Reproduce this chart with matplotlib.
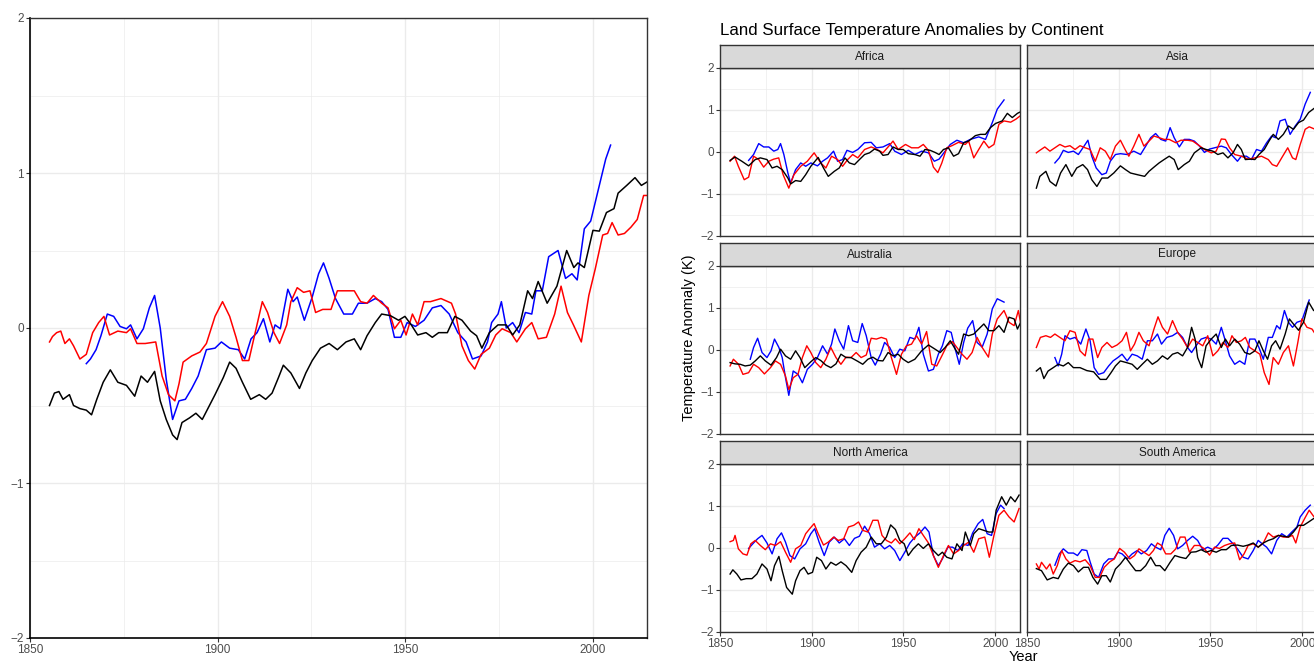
#!/usr/bin/env python3
"""
Land surface temperature anomalies: global overview plus one panel per continent.
Values were read off the reference figure (smoothed series, 3 sources).
"""

import numpy as np
import matplotlib
matplotlib.use("Agg")
import matplotlib.pyplot as plt
from matplotlib.ticker import MultipleLocator

plt.rcParams['font.family'] = ['Liberation Sans', 'DejaVu Sans']

# ---- data: (year, anomaly K) pairs per series ----
global_black = [(1855.2, -0.50), (1856.5, -0.42), (1857.7, -0.41), (1858.8, -0.46), (1860.5, -0.43), (1861.6, -0.50),
                (1863.3, -0.52), (1865.0, -0.53), (1866.4, -0.56), (1867.8, -0.46), (1869.5, -0.35), (1871.4, -0.27),
                (1873.4, -0.35), (1875.7, -0.37), (1877.9, -0.44), (1879.6, -0.31), (1881.3, -0.35), (1883.2, -0.28),
                (1884.7, -0.47), (1886.3, -0.59), (1888.0, -0.69), (1889.2, -0.72), (1890.5, -0.61), (1892.5, -0.58),
                (1894.2, -0.55), (1895.9, -0.59), (1897.6, -0.51), (1899.3, -0.43), (1901.5, -0.32), (1903.2, -0.22),
                (1904.9, -0.26), (1906.6, -0.35), (1908.8, -0.46), (1911.1, -0.43), (1912.8, -0.46), (1914.5, -0.42),
                (1916.2, -0.32), (1917.5, -0.24), (1919.5, -0.29), (1921.8, -0.39), (1923.5, -0.29), (1925.2, -0.21),
                (1927.4, -0.13), (1929.7, -0.10), (1931.9, -0.14), (1934.2, -0.09), (1936.4, -0.07), (1938.1, -0.14),
                (1939.8, -0.05), (1942.0, 0.035), (1943.7, 0.09), (1946.0, 0.08), (1948.2, 0.05), (1949.9, 0.075),
                (1951.6, 0.02), (1953.3, -0.045), (1955.5, -0.03), (1957.2, -0.06), (1958.9, -0.03), (1961.2, -0.03),
                (1963.2, 0.075), (1965.1, 0.05), (1967.4, -0.02), (1969.0, -0.05), (1970.4, -0.13), (1972.4, -0.03),
                (1974.7, 0.02), (1976.9, 0.02), (1978.6, -0.045), (1980.5, 0.02), (1982.6, 0.24), (1983.9, 0.19),
                (1985.4, 0.30), (1987.8, 0.16), (1990.4, 0.27), (1993.0, 0.50), (1994.9, 0.39), (1996.0, 0.42),
                (1997.7, 0.39), (2000.0, 0.63), (2001.7, 0.625), (2003.6, 0.745), (2005.6, 0.77), (2006.7, 0.87),
                (2009.0, 0.92), (2011.2, 0.97), (2012.9, 0.92), (2014.6, 0.945)]
global_blue = [(1865.0, -0.23), (1866.1, -0.20), (1867.6, -0.14), (1868.9, -0.05), (1870.6, 0.09), (1872.3, 0.075),
               (1874.0, 0.01), (1875.7, -0.005), (1876.8, 0.02), (1878.5, -0.07), (1880.2, -0.005), (1881.8, 0.13),
               (1883.2, 0.21), (1884.7, 0.0), (1886.3, -0.33), (1888.0, -0.59), (1889.7, -0.47), (1891.4, -0.46),
               (1893.1, -0.39), (1894.8, -0.31), (1897.0, -0.14), (1899.3, -0.13), (1901.0, -0.09), (1903.2, -0.13),
               (1905.5, -0.14), (1907.2, -0.20), (1908.9, -0.07), (1910.5, -0.03), (1912.2, 0.06), (1913.9, -0.09),
               (1915.3, 0.02), (1916.7, -0.005), (1918.7, 0.25), (1920.1, 0.17), (1921.2, 0.20), (1923.1, 0.05),
               (1925.2, 0.20), (1926.9, 0.35), (1928.2, 0.42), (1929.7, 0.32), (1931.4, 0.19), (1933.6, 0.09),
               (1935.9, 0.09), (1937.5, 0.16), (1939.8, 0.16), (1942.0, 0.19), (1943.7, 0.17), (1945.4, 0.12),
               (1947.1, -0.06), (1948.8, -0.06), (1950.5, 0.035), (1952.7, 0.01), (1955.0, 0.05), (1957.2, 0.13),
               (1959.5, 0.145), (1961.7, 0.09), (1964.0, -0.03), (1966.2, -0.09), (1967.9, -0.20), (1970.2, -0.18),
               (1971.9, -0.09), (1973.0, 0.035), (1974.7, 0.09), (1975.6, 0.17), (1976.9, 0.0), (1978.6, 0.035),
               (1980.3, -0.03), (1982.0, 0.10), (1983.7, 0.09), (1984.8, 0.24), (1986.5, 0.24), (1988.2, 0.46),
               (1990.7, 0.50), (1992.7, 0.32), (1994.4, 0.35), (1995.8, 0.31), (1997.7, 0.64), (1999.4, 0.69),
               (2001.7, 0.92), (2003.4, 1.09), (2004.7, 1.18)]
global_red = [(1855.2, -0.09), (1856.0, -0.055), (1857.1, -0.03), (1858.2, -0.02), (1859.3, -0.10), (1860.5, -0.07),
              (1861.6, -0.115), (1863.3, -0.20), (1865.0, -0.17), (1866.7, -0.03), (1868.3, 0.035), (1869.7, 0.075),
              (1871.2, -0.045), (1873.4, -0.02), (1875.7, -0.03), (1876.8, -0.005), (1878.5, -0.10), (1880.7, -0.10),
              (1883.5, -0.09), (1885.2, -0.31), (1886.9, -0.43), (1888.6, -0.47), (1889.7, -0.36), (1890.8, -0.22),
              (1893.1, -0.18), (1895.3, -0.155), (1897.0, -0.10), (1899.3, 0.075), (1901.3, 0.17), (1903.2, 0.075),
              (1904.9, -0.06), (1906.6, -0.21), (1908.3, -0.21), (1910.0, -0.03), (1911.9, 0.17), (1913.3, 0.10),
              (1915.0, -0.03), (1916.5, -0.10), (1918.4, 0.02), (1919.5, 0.17), (1921.2, 0.26), (1922.9, 0.23),
              (1924.6, 0.24), (1926.1, 0.10), (1928.0, 0.12), (1930.2, 0.12), (1931.9, 0.24), (1934.2, 0.24),
              (1936.4, 0.24), (1938.1, 0.17), (1939.8, 0.16), (1941.5, 0.21), (1943.7, 0.16), (1945.4, 0.13),
              (1947.1, -0.005), (1948.8, 0.05), (1950.2, -0.045), (1951.9, 0.09), (1953.3, 0.02), (1955.0, 0.17),
              (1956.7, 0.17), (1959.5, 0.19), (1962.3, 0.16), (1963.4, 0.09), (1965.1, -0.115), (1966.8, -0.21),
              (1968.5, -0.265), (1970.2, -0.17), (1972.4, -0.13), (1974.1, -0.045), (1975.8, -0.005), (1978.1, -0.03),
              (1979.7, -0.09), (1982.0, -0.005), (1983.7, 0.035), (1985.4, -0.07), (1987.6, -0.06), (1989.8, 0.09),
              (1991.5, 0.27), (1993.2, 0.10), (1994.8, 0.02), (1996.9, -0.09), (1998.9, 0.21), (2000.6, 0.38),
              (2002.6, 0.60), (2003.9, 0.61), (2005.1, 0.68), (2006.7, 0.60), (2008.4, 0.61), (2010.1, 0.65),
              (2011.8, 0.70), (2013.5, 0.855), (2014.6, 0.855)]

africa_black = [(1855.5, -0.20), (1858.2, -0.12), (1861.9, -0.22), (1865.6, -0.33), (1869.2, -0.18), (1872.0, -0.14),
                (1875.6, -0.18), (1878.4, -0.38), (1881.1, -0.34), (1883.9, -0.42), (1887.0, -0.62), (1888.5, -0.76),
                (1891.2, -0.68), (1894.0, -0.70), (1896.7, -0.54), (1899.5, -0.34), (1903.5, -0.13), (1906.4, -0.38),
                (1909.0, -0.58), (1912.3, -0.46), (1915.0, -0.38), (1918.1, -0.14), (1920.5, -0.26), (1923.3, -0.30),
                (1926.0, -0.18), (1928.8, -0.06), (1931.5, -0.02), (1934.2, 0.07), (1937.0, 0.02), (1938.8, -0.08),
                (1941.6, -0.06), (1944.3, 0.12), (1947.1, 0.06), (1949.8, 0.06), (1952.6, -0.04), (1956.2, -0.06),
                (1959.0, -0.10), (1961.7, 0.06), (1964.5, 0.04), (1967.2, -0.01), (1969.4, -0.06), (1971.8, 0.06),
                (1974.5, 0.10), (1977.3, -0.10), (1980.0, -0.04), (1982.8, 0.22), (1985.5, 0.26), (1989.2, 0.39),
                (1991.9, 0.42), (1994.7, 0.42), (1997.4, 0.58), (2000.2, 0.68), (2003.8, 0.74), (2006.6, 0.92),
                (2009.3, 0.82), (2012.1, 0.92), (2013.9, 0.96)]
africa_blue = [(1865.6, -0.20), (1868.3, -0.06), (1871.1, 0.20), (1873.8, 0.12), (1876.6, 0.12), (1879.3, 0.02),
               (1881.5, 0.06), (1883.0, 0.20), (1884.8, -0.06), (1887.0, -0.50), (1888.5, -0.74), (1891.2, -0.42),
               (1894.0, -0.26), (1896.7, -0.34), (1899.5, -0.26), (1903.1, -0.33), (1905.9, -0.22), (1908.6, -0.14),
               (1911.9, 0.02), (1914.1, -0.22), (1916.8, -0.18), (1919.2, 0.04), (1922.3, -0.01), (1925.1, 0.06),
               (1928.8, 0.22), (1932.4, 0.23), (1935.2, 0.10), (1938.8, 0.12), (1942.5, 0.20), (1945.2, 0.02),
               (1948.9, -0.06), (1952.6, 0.04), (1956.2, -0.06), (1959.9, 0.02), (1963.6, -0.02), (1966.8, -0.22),
               (1969.4, -0.17), (1972.7, 0.02), (1975.5, 0.18), (1979.1, 0.28), (1982.8, 0.22), (1986.4, 0.30),
               (1991.0, 0.36), (1994.7, 0.30), (1998.4, 0.70), (2001.1, 1.02), (2004.8, 1.24)]
africa_red = [(1855.5, -0.22), (1857.9, -0.10), (1860.0, -0.34), (1863.2, -0.66), (1865.6, -0.60), (1868.3, -0.10),
              (1871.1, -0.18), (1873.8, -0.36), (1876.6, -0.22), (1879.3, -0.17), (1882.0, -0.14), (1884.4, -0.54),
              (1887.5, -0.86), (1890.3, -0.54), (1894.0, -0.34), (1897.6, -0.22), (1901.3, -0.02), (1904.9, -0.26),
              (1907.7, -0.38), (1910.8, -0.10), (1914.1, -0.18), (1916.8, -0.34), (1919.6, -0.18), (1922.3, -0.06),
              (1925.1, -0.14), (1928.8, 0.06), (1932.4, 0.12), (1935.2, 0.07), (1938.8, -0.02), (1941.6, 0.12),
              (1944.3, 0.26), (1947.1, 0.06), (1951.1, 0.18), (1954.4, 0.10), (1958.1, 0.10), (1960.8, 0.18),
              (1963.6, 0.04), (1966.3, -0.36), (1968.7, -0.49), (1970.9, -0.26), (1973.6, 0.10), (1976.4, 0.15),
              (1980.0, 0.23), (1983.7, 0.18), (1985.5, 0.26), (1988.3, -0.14), (1991.0, 0.06), (1993.8, 0.26),
              (1996.5, 0.10), (1999.3, 0.18), (2002.0, 0.66), (2004.8, 0.74), (2008.4, 0.71), (2011.2, 0.78),
              (2013.9, 0.87)]

asia_black = [(1855.1, -0.86), (1857.0, -0.58), (1860.3, -0.46), (1862.5, -0.70), (1865.8, -0.81), (1868.3, -0.50),
              (1871.2, -0.30), (1874.4, -0.58), (1877.1, -0.38), (1880.4, -0.30), (1883.0, -0.42), (1885.3, -0.66),
              (1888.1, -0.82), (1890.8, -0.62), (1894.0, -0.62), (1897.3, -0.50), (1900.9, -0.33), (1903.7, -0.42),
              (1906.4, -0.50), (1910.1, -0.54), (1914.1, -0.58), (1916.5, -0.46), (1919.2, -0.36), (1922.0, -0.26),
              (1924.7, -0.18), (1927.5, -0.10), (1930.2, -0.18), (1932.4, -0.42), (1935.7, -0.30), (1938.5, -0.22),
              (1941.2, -0.02), (1944.9, 0.10), (1947.6, 0.06), (1951.3, 0.02), (1954.0, -0.06), (1956.8, -0.02),
              (1959.5, -0.14), (1962.3, -0.02), (1964.7, 0.18), (1966.8, 0.06), (1969.0, -0.18), (1972.0, -0.17),
              (1974.2, -0.18), (1976.4, -0.06), (1979.3, 0.06), (1981.9, 0.26), (1984.2, 0.42), (1987.0, 0.30),
              (1989.7, 0.42), (1992.5, 0.62), (1995.2, 0.54), (1998.0, 0.70), (2000.7, 0.76), (2003.5, 0.94),
              (2007.1, 1.06), (2010.0, 1.10)]
asia_blue = [(1865.2, -0.26), (1867.6, -0.14), (1869.8, 0.04), (1872.5, -0.01), (1875.3, 0.02), (1878.0, -0.06),
             (1881.1, 0.14), (1883.2, 0.28), (1885.3, -0.10), (1887.7, -0.38), (1890.8, -0.54), (1893.2, -0.50),
             (1895.4, -0.22), (1898.2, -0.06), (1900.9, -0.04), (1904.6, -0.06), (1908.2, 0.02), (1911.9, -0.06),
             (1914.7, 0.14), (1917.4, 0.34), (1920.1, 0.44), (1922.9, 0.30), (1925.6, 0.26), (1928.0, 0.58),
             (1930.2, 0.34), (1933.0, 0.12), (1935.7, 0.30), (1938.5, 0.30), (1941.2, 0.26), (1944.0, 0.14),
             (1946.7, -0.01), (1949.5, 0.07), (1952.2, 0.10), (1955.9, 0.14), (1958.6, 0.10), (1961.4, -0.06),
             (1964.7, -0.22), (1966.8, -0.10), (1969.6, -0.10), (1972.3, -0.18), (1975.1, 0.06), (1977.8, 0.02),
             (1980.6, 0.22), (1983.3, 0.38), (1985.5, 0.34), (1987.9, 0.74), (1990.7, 0.78), (1993.4, 0.42),
             (1996.2, 0.62), (1998.9, 0.78), (2001.6, 1.14), (2004.4, 1.42)]
asia_red = [(1855.1, -0.02), (1857.0, 0.04), (1859.7, 0.12), (1862.5, 0.02), (1865.2, 0.10), (1867.9, 0.18),
            (1870.7, 0.12), (1873.4, 0.15), (1876.2, 0.06), (1878.9, 0.15), (1881.7, 0.10), (1884.4, 0.06),
            (1887.2, -0.22), (1889.9, 0.10), (1892.7, 0.02), (1895.4, -0.18), (1898.2, 0.14), (1900.9, 0.28),
            (1903.7, 0.04), (1905.5, -0.10), (1908.2, 0.14), (1911.0, 0.42), (1913.7, 0.14), (1916.5, 0.26),
            (1919.2, 0.38), (1922.0, 0.34), (1924.7, 0.30), (1927.5, 0.30), (1931.1, 0.22), (1933.9, 0.28),
            (1937.5, 0.28), (1940.3, 0.26), (1943.0, 0.18), (1946.7, 0.06), (1950.4, -0.02), (1953.1, 0.02),
            (1955.9, 0.31), (1958.1, 0.30), (1960.4, 0.10), (1963.2, -0.06), (1966.8, -0.10), (1970.5, -0.17),
            (1974.2, -0.14), (1977.8, -0.10), (1981.5, -0.18), (1983.7, -0.30), (1986.1, -0.34), (1988.8, -0.14),
            (1992.1, 0.10), (1994.7, -0.14), (1996.5, -0.18), (1998.9, 0.18), (2001.6, 0.54), (2003.8, 0.60),
            (2007.1, 0.54), (2010.0, 0.52)]

australia_black = [(1855.5, -0.30), (1858.2, -0.33), (1861.0, -0.34), (1863.7, -0.38), (1866.5, -0.36), (1869.2, -0.26),
                   (1872.0, -0.14), (1874.7, -0.26), (1877.8, -0.36), (1880.8, -0.18), (1883.0, 0.02), (1885.7, -0.14),
                   (1888.5, -0.22), (1891.2, -0.02), (1893.6, -0.18), (1896.2, -0.42), (1899.5, -0.28), (1902.2, -0.18),
                   (1904.9, -0.25), (1907.7, -0.36), (1910.4, -0.42), (1913.2, -0.33), (1915.9, -0.10), (1918.7, -0.18),
                   (1921.4, -0.18), (1924.7, -0.26), (1927.8, -0.34), (1930.6, -0.22), (1933.3, -0.17), (1936.1, -0.25),
                   (1938.8, -0.26), (1941.6, -0.06), (1944.3, -0.14), (1947.1, -0.10), (1949.8, -0.22), (1952.6, -0.30),
                   (1956.2, -0.22), (1959.9, -0.02), (1963.6, 0.12), (1967.2, 0.02), (1970.0, -0.06), (1972.7, 0.06),
                   (1975.5, 0.22), (1978.2, 0.02), (1980.0, -0.10), (1982.8, 0.38), (1985.5, 0.34), (1988.3, 0.38),
                   (1991.0, 0.50), (1993.8, 0.62), (1996.5, 0.46), (1999.3, 0.46), (2002.0, 0.58), (2004.8, 0.42),
                   (2007.5, 0.78), (2010.3, 0.74), (2012.1, 0.50), (2013.9, 0.66)]
australia_blue = [(1866.5, -0.22), (1868.3, 0.06), (1870.5, 0.28), (1872.9, -0.06), (1875.6, -0.18), (1877.8, -0.02),
                  (1879.7, 0.26), (1882.1, 0.06), (1883.9, -0.18), (1885.7, -0.66), (1887.5, -1.08), (1889.9, -0.50),
                  (1892.5, -0.58), (1894.9, -0.78), (1897.6, -0.46), (1900.4, -0.34), (1903.1, -0.18), (1905.9, 0.10),
                  (1908.6, -0.10), (1910.8, 0.14), (1912.6, 0.50), (1915.0, 0.22), (1917.4, 0.02), (1920.0, 0.58),
                  (1922.3, 0.22), (1925.1, 0.18), (1927.5, 0.63), (1929.7, 0.34), (1932.4, -0.18), (1934.6, -0.36),
                  (1937.5, -0.10), (1939.7, 0.18), (1942.5, 0.06), (1945.2, -0.18), (1948.0, 0.02), (1950.7, -0.02),
                  (1953.5, 0.30), (1956.2, 0.26), (1958.4, 0.54), (1960.8, -0.10), (1963.6, -0.50), (1966.3, -0.46),
                  (1969.0, -0.10), (1971.2, 0.10), (1973.6, 0.46), (1976.0, 0.42), (1978.2, 0.02), (1980.4, -0.34),
                  (1982.8, 0.18), (1985.0, 0.52), (1987.7, 0.70), (1990.1, 0.18), (1992.9, 0.07), (1995.6, 0.38),
                  (1998.4, 0.98), (2001.1, 1.22), (2004.8, 1.14)]
australia_red = [(1855.5, -0.38), (1857.3, -0.22), (1860.1, -0.34), (1862.5, -0.58), (1865.6, -0.54), (1868.3, -0.34),
                 (1871.1, -0.42), (1874.2, -0.57), (1877.5, -0.42), (1880.2, -0.26), (1883.0, -0.34), (1885.7, -0.62),
                 (1887.5, -0.94), (1889.9, -0.66), (1892.5, -0.58), (1894.9, -0.18), (1897.3, 0.10), (1899.5, -0.06),
                 (1902.2, -0.30), (1904.9, -0.42), (1907.7, -0.22), (1910.4, 0.06), (1913.2, -0.18), (1915.9, -0.34),
                 (1918.7, -0.17), (1921.4, -0.18), (1924.2, -0.06), (1926.9, -0.18), (1929.7, -0.12), (1932.4, 0.28),
                 (1935.2, 0.26), (1937.9, 0.30), (1940.7, 0.26), (1943.4, -0.18), (1946.2, -0.58), (1948.9, -0.10),
                 (1951.6, 0.10), (1954.4, 0.14), (1957.1, 0.34), (1959.9, 0.14), (1962.6, 0.44), (1965.4, -0.34),
                 (1968.1, -0.38), (1970.9, -0.14), (1973.6, 0.10), (1976.7, 0.20), (1979.1, 0.06), (1981.9, -0.10),
                 (1984.6, -0.22), (1987.4, -0.06), (1990.1, 0.30), (1992.9, 0.06), (1996.3, -0.17), (1998.4, 0.38),
                 (2001.1, 0.74), (2004.8, 0.94), (2007.5, 0.66), (2010.3, 0.58), (2012.6, 0.94), (2013.9, 0.62)]

europe_black = [(1855.1, -0.50), (1857.3, -0.42), (1859.2, -0.68), (1861.5, -0.50), (1864.3, -0.42), (1867.0, -0.34),
                (1869.8, -0.38), (1872.5, -0.30), (1875.3, -0.42), (1878.9, -0.42), (1882.6, -0.49), (1886.3, -0.52),
                (1889.9, -0.70), (1893.2, -0.70), (1895.8, -0.54), (1898.2, -0.38), (1900.9, -0.26), (1904.2, -0.30),
                (1907.3, -0.34), (1910.1, -0.46), (1912.8, -0.34), (1915.6, -0.22), (1918.3, -0.34), (1921.1, -0.26),
                (1923.8, -0.14), (1926.6, -0.22), (1929.3, -0.10), (1932.1, -0.06), (1934.8, -0.14), (1937.5, 0.06),
                (1939.7, 0.54), (1941.6, 0.26), (1943.0, -0.18), (1945.2, -0.42), (1947.6, 0.10), (1950.4, 0.26),
                (1953.1, 0.38), (1955.9, 0.06), (1958.1, 0.26), (1960.4, 0.10), (1963.2, 0.26), (1965.9, 0.14),
                (1968.7, -0.06), (1971.4, -0.10), (1974.2, -0.02), (1976.4, 0.22), (1978.8, -0.02), (1981.1, -0.22),
                (1983.3, 0.10), (1985.5, 0.22), (1987.9, 0.02), (1990.7, 0.38), (1993.0, 0.74), (1995.2, 0.62),
                (1998.0, 0.47), (2000.7, 0.66), (2003.5, 1.14), (2006.2, 0.94), (2010.0, 0.90)]
europe_blue = [(1865.2, -0.18), (1867.0, -0.38), (1868.9, -0.10), (1870.7, 0.34), (1873.4, 0.26), (1876.2, 0.30),
               (1879.3, 0.14), (1882.1, 0.50), (1884.4, 0.22), (1886.6, -0.42), (1889.0, -0.58), (1891.8, -0.54),
               (1894.5, -0.38), (1896.9, -0.26), (1899.5, -0.18), (1901.8, -0.10), (1904.6, -0.26), (1907.3, -0.10),
               (1910.1, -0.14), (1912.8, -0.22), (1915.6, 0.22), (1918.3, 0.22), (1921.1, 0.38), (1923.3, 0.14),
               (1926.2, 0.30), (1929.3, 0.34), (1932.1, 0.42), (1934.8, 0.30), (1937.5, 0.06), (1939.7, -0.06),
               (1942.1, 0.10), (1944.9, 0.26), (1947.6, 0.30), (1950.4, 0.26), (1953.1, 0.14), (1955.9, 0.54),
               (1958.1, 0.22), (1960.4, -0.14), (1963.2, -0.34), (1965.9, -0.26), (1968.7, -0.34), (1971.4, 0.26),
               (1974.2, 0.26), (1976.4, 0.06), (1978.8, -0.22), (1981.5, 0.30), (1983.7, 0.30), (1986.1, 0.58),
               (1987.9, 0.50), (1990.3, 0.94), (1992.5, 0.66), (1994.7, 0.54), (1997.1, 0.66), (1999.8, 0.70),
               (2002.0, 0.98), (2003.8, 1.19)]
europe_red = [(1855.1, 0.06), (1857.3, 0.30), (1860.3, 0.34), (1862.8, 0.30), (1865.2, 0.38), (1867.9, 0.30),
              (1870.7, 0.22), (1873.4, 0.46), (1876.2, 0.42), (1878.9, -0.02), (1881.7, -0.14), (1883.5, 0.26),
              (1885.9, 0.26), (1888.5, -0.18), (1890.8, 0.06), (1893.6, 0.18), (1896.3, 0.06), (1899.1, 0.12),
              (1901.8, 0.22), (1904.2, 0.42), (1906.4, -0.02), (1908.6, 0.14), (1911.0, 0.42), (1913.4, 0.22),
              (1916.5, 0.10), (1919.2, 0.50), (1921.4, 0.79), (1923.8, 0.54), (1926.6, 0.38), (1929.3, 0.70),
              (1932.1, 0.42), (1934.8, 0.26), (1937.5, 0.06), (1940.3, 0.26), (1943.0, 0.18), (1945.8, 0.10),
              (1948.5, 0.34), (1951.3, -0.14), (1954.0, -0.02), (1956.8, 0.18), (1959.5, 0.06), (1961.7, 0.34),
              (1964.1, 0.18), (1966.8, 0.22), (1969.0, 0.30), (1971.4, 0.06), (1974.2, -0.02), (1976.9, -0.10),
              (1979.3, -0.54), (1981.9, -0.82), (1984.2, -0.18), (1987.0, -0.34), (1989.7, -0.06), (1992.5, 0.10),
              (1995.2, -0.38), (1997.6, 0.18), (1999.8, 0.74), (2002.6, 0.54), (2005.3, 0.50), (2007.1, 0.38),
              (2010.0, 0.40)]

namerica_black = [(1855.5, -0.62), (1857.0, -0.52), (1859.2, -0.62), (1861.4, -0.76), (1864.3, -0.73), (1867.4, -0.73),
                  (1870.1, -0.62), (1872.9, -0.38), (1875.6, -0.50), (1877.8, -0.78), (1879.7, -0.42), (1882.1, -0.20),
                  (1883.9, -0.54), (1886.3, -0.94), (1889.4, -1.10), (1891.2, -0.78), (1893.6, -0.54), (1895.8, -0.46),
                  (1898.0, -0.62), (1900.4, -0.58), (1902.7, -0.22), (1905.3, -0.30), (1907.7, -0.50), (1910.4, -0.34),
                  (1913.2, -0.41), (1915.9, -0.33), (1918.7, -0.42), (1921.8, -0.58), (1924.2, -0.30), (1926.9, -0.10),
                  (1929.7, 0.02), (1932.4, 0.26), (1935.2, 0.10), (1937.9, 0.10), (1940.7, 0.26), (1943.0, 0.55),
                  (1945.6, 0.44), (1948.0, 0.18), (1950.4, 0.10), (1952.6, -0.18), (1955.3, -0.02), (1958.1, 0.10),
                  (1960.8, -0.01), (1963.6, 0.10), (1966.3, -0.06), (1969.0, -0.18), (1971.2, -0.10), (1973.6, -0.22),
                  (1976.4, -0.26), (1979.1, 0.10), (1981.9, -0.06), (1983.7, 0.38), (1986.4, 0.06), (1988.3, 0.34),
                  (1991.0, 0.46), (1993.8, 0.42), (1996.5, 0.38), (1998.7, 0.38), (2000.5, 0.90), (2003.5, 1.22),
                  (2006.0, 1.02), (2008.4, 1.22), (2010.8, 1.10), (2013.0, 1.26)]
namerica_blue = [(1865.6, -0.01), (1868.3, 0.12), (1870.5, 0.22), (1872.9, 0.30), (1875.6, 0.12), (1878.4, -0.14),
                 (1881.1, 0.22), (1883.5, 0.36), (1885.7, 0.14), (1888.1, -0.18), (1890.7, -0.26), (1893.6, -0.02),
                 (1896.7, 0.10), (1899.5, 0.34), (1901.6, 0.46), (1904.0, 0.14), (1906.8, -0.18), (1909.5, 0.14),
                 (1912.3, 0.26), (1915.0, 0.12), (1917.8, 0.22), (1920.5, 0.06), (1923.3, 0.23), (1926.0, 0.28),
                 (1928.8, 0.52), (1931.5, 0.34), (1934.2, 0.02), (1937.0, 0.10), (1939.7, -0.02), (1942.5, 0.06),
                 (1945.2, -0.06), (1948.0, -0.30), (1950.7, -0.10), (1953.5, 0.12), (1956.2, 0.26), (1959.0, 0.36),
                 (1961.7, 0.50), (1963.9, 0.38), (1966.3, -0.18), (1969.0, -0.42), (1971.2, -0.26), (1974.2, 0.02),
                 (1976.7, 0.02), (1979.7, -0.06), (1982.2, 0.10), (1985.2, 0.06), (1987.7, 0.36), (1990.7, 0.58),
                 (1993.2, 0.68), (1995.6, 0.34), (1998.0, 0.30), (2000.5, 0.82), (2002.9, 1.02), (2004.8, 0.94)]
namerica_red = [(1855.5, 0.15), (1857.3, 0.18), (1858.2, 0.30), (1860.0, -0.02), (1862.5, -0.14), (1864.7, -0.17),
                (1866.8, 0.10), (1869.2, 0.18), (1872.0, 0.06), (1874.7, -0.04), (1877.5, 0.10), (1880.2, 0.06),
                (1883.0, 0.15), (1885.7, -0.10), (1888.5, -0.34), (1891.2, -0.02), (1894.0, 0.06), (1896.7, 0.34),
                (1899.1, 0.47), (1901.3, 0.58), (1903.5, 0.34), (1906.4, 0.07), (1909.0, 0.14), (1911.9, 0.26),
                (1914.5, 0.18), (1917.4, 0.22), (1920.0, 0.50), (1922.9, 0.54), (1925.5, 0.62), (1927.8, 0.42),
                (1930.6, 0.38), (1933.3, 0.66), (1936.1, 0.66), (1938.3, 0.30), (1940.7, 0.18), (1943.4, 0.12),
                (1945.6, 0.22), (1948.0, 0.10), (1950.7, 0.22), (1953.5, 0.36), (1955.9, 0.20), (1958.4, 0.46),
                (1960.8, 0.30), (1963.6, 0.12), (1966.3, -0.18), (1969.0, -0.46), (1971.8, -0.18), (1974.5, 0.06),
                (1977.3, -0.14), (1980.0, -0.06), (1982.8, 0.06), (1985.5, 0.14), (1988.3, -0.10), (1991.0, 0.22),
                (1994.3, 0.26), (1996.8, -0.22), (1999.3, 0.30), (2002.0, 0.78), (2004.8, 0.90), (2007.5, 0.74),
                (2010.3, 0.62), (2013.0, 0.94)]

samerica_black = [(1855.1, -0.49), (1857.9, -0.54), (1861.0, -0.76), (1864.3, -0.70), (1867.0, -0.73), (1869.8, -0.50),
                  (1872.5, -0.36), (1875.3, -0.42), (1878.0, -0.57), (1880.8, -0.46), (1883.5, -0.46), (1885.9, -0.70),
                  (1888.5, -0.86), (1890.8, -0.66), (1893.2, -0.66), (1895.4, -0.81), (1898.2, -0.50), (1900.9, -0.38),
                  (1903.7, -0.22), (1906.4, -0.38), (1909.2, -0.54), (1911.9, -0.54), (1914.7, -0.42), (1917.4, -0.22),
                  (1920.1, -0.42), (1922.5, -0.42), (1925.1, -0.54), (1928.0, -0.34), (1930.6, -0.18), (1933.5, -0.22),
                  (1936.6, -0.25), (1939.4, -0.10), (1942.1, -0.09), (1944.9, -0.04), (1947.6, -0.10), (1950.4, -0.06),
                  (1953.1, -0.10), (1955.9, -0.04), (1958.6, -0.04), (1961.4, 0.06), (1964.7, 0.07), (1967.8, 0.04),
                  (1970.5, 0.07), (1973.3, 0.12), (1976.0, 0.02), (1978.8, 0.12), (1981.5, 0.18), (1984.2, 0.22),
                  (1987.0, 0.30), (1989.7, 0.28), (1992.5, 0.26), (1995.2, 0.38), (1998.0, 0.54), (2000.7, 0.54),
                  (2003.5, 0.62), (2006.2, 0.70), (2010.0, 0.72)]
samerica_blue = [(1865.2, -0.41), (1867.6, -0.14), (1869.8, -0.02), (1872.5, -0.12), (1875.3, -0.12), (1877.5, -0.18),
                 (1879.9, -0.04), (1882.6, -0.06), (1884.4, -0.33), (1886.6, -0.62), (1889.0, -0.70), (1891.8, -0.38),
                 (1894.5, -0.26), (1897.3, -0.26), (1899.5, -0.10), (1901.8, -0.14), (1904.6, -0.26), (1907.3, -0.14),
                 (1910.1, -0.06), (1912.3, -0.14), (1915.2, -0.06), (1917.8, 0.10), (1920.1, 0.02), (1922.9, -0.04),
                 (1925.1, 0.30), (1927.5, 0.47), (1929.9, 0.30), (1932.1, -0.02), (1934.8, 0.06), (1937.5, 0.18),
                 (1940.3, 0.28), (1943.0, 0.18), (1945.8, -0.04), (1948.5, 0.02), (1951.3, -0.04), (1954.0, 0.07),
                 (1956.8, 0.23), (1959.5, 0.23), (1962.3, 0.10), (1964.7, -0.02), (1967.8, -0.22), (1970.5, -0.26),
                 (1973.3, -0.06), (1976.0, 0.18), (1978.2, 0.10), (1980.6, 0.02), (1983.3, -0.14), (1986.1, 0.18),
                 (1988.8, 0.34), (1991.6, 0.26), (1994.3, 0.38), (1997.1, 0.50), (1998.9, 0.74), (2001.6, 0.90),
                 (2004.4, 1.02)]
samerica_red = [(1855.1, -0.38), (1856.6, -0.50), (1857.9, -0.34), (1860.6, -0.50), (1862.5, -0.38), (1864.3, -0.62),
                (1866.5, -0.42), (1868.9, -0.06), (1871.2, -0.26), (1873.4, -0.36), (1876.2, -0.30), (1878.9, -0.33),
                (1881.7, -0.28), (1884.4, -0.42), (1887.2, -0.70), (1889.6, -0.70), (1892.1, -0.46), (1895.1, -0.33),
                (1897.6, -0.26), (1900.5, -0.01), (1903.1, -0.10), (1906.0, -0.26), (1908.6, -0.18), (1911.0, -0.02),
                (1913.7, -0.10), (1916.5, -0.18), (1918.9, -0.06), (1921.1, 0.12), (1923.3, 0.06), (1925.6, -0.14),
                (1928.4, -0.14), (1931.1, -0.02), (1933.5, 0.26), (1936.1, 0.26), (1938.5, -0.10), (1941.2, 0.06),
                (1944.0, 0.06), (1946.7, -0.02), (1949.5, -0.17), (1952.2, 0.02), (1954.9, -0.01), (1957.7, 0.06),
                (1960.4, 0.10), (1963.2, 0.12), (1965.9, -0.28), (1968.3, -0.14), (1970.5, 0.06), (1973.3, 0.10),
                (1976.0, 0.02), (1978.8, 0.12), (1981.5, 0.36), (1984.2, 0.26), (1987.0, 0.30), (1989.7, 0.26),
                (1992.5, 0.26), (1994.7, 0.30), (1996.5, 0.12), (1998.9, 0.50), (2001.3, 0.70), (2003.8, 0.90),
                (2007.1, 0.70), (2010.0, 0.62)]

continents = ["Africa", "Asia", "Australia", "Europe", "North America", "South America"]
continent_series = {
    "Africa": (africa_blue, africa_red, africa_black),
    "Asia": (asia_blue, asia_red, asia_black),
    "Australia": (australia_blue, australia_red, australia_black),
    "Europe": (europe_blue, europe_red, europe_black),
    "North America": (namerica_blue, namerica_red, namerica_black),
    "South America": (samerica_blue, samerica_red, samerica_black),
}
line_colors = ["#0000ff", "#ff0000", "#000000"]

W, H = 1314, 663
GRID = "#ebebeb"
TICK_TXT = "#4d4d4d"
BORDER = "#333333"


def fig_rect(x0, y0, x1, y1):
    """pixel box (top-left origin) -> figure fraction rect"""
    return [x0 / W, 1 - y1 / H, (x1 - x0) / W, (y1 - y0) / H]


def style_axes(ax, xmax):
    ax.set_xlim(1850, xmax)
    ax.set_ylim(-2, 2)
    ax.xaxis.set_major_locator(MultipleLocator(50))
    ax.xaxis.set_minor_locator(MultipleLocator(25))
    ax.yaxis.set_major_locator(MultipleLocator(1))
    ax.yaxis.set_minor_locator(MultipleLocator(0.5))
    ax.grid(which="major", color=GRID, lw=1.0)
    ax.grid(which="minor", color=GRID, lw=0.5)
    ax.set_axisbelow(True)
    ax.tick_params(which="minor", length=0)
    ax.tick_params(which="major", length=3, width=0.8, color=BORDER,
                   labelsize=8.5, labelcolor=TICK_TXT, pad=1.5)
    for sp in ax.spines.values():
        sp.set_color(BORDER)
        sp.set_linewidth(1.0)


def draw_series(ax, pairs, color, lw):
    arr = np.array(pairs)
    ax.plot(arr[:, 0], arr[:, 1], color=color, lw=lw, solid_joinstyle="round")


fig = plt.figure(figsize=(W / 100, H / 100), dpi=100)

# ---- left: global series ----
ax = fig.add_axes(fig_rect(30, 18, 647, 638))
style_axes(ax, 2014.4)
for pairs, c in zip((global_blue, global_red, global_black), line_colors):
    draw_series(ax, pairs, c, 1.1)
ax.spines["left"].set_color("black")
ax.spines["bottom"].set_color("black")
ax.spines["left"].set_linewidth(1.2)
ax.spines["bottom"].set_linewidth(1.2)

# ---- right: facets by continent ----
col_x = [(720, 1020), (1027, 1327)]
row_y = [(45, 68, 236), (243, 266, 434), (441, 464, 632)]
for i, name in enumerate(continents):
    r, c = divmod(i, 2)
    x0, x1 = col_x[c]
    s0, p0, p1 = row_y[r]
    fax = fig.add_axes(fig_rect(x0, p0, x1, p1))
    style_axes(fax, 2013.5)
    for pairs, col in zip(continent_series[name], line_colors):
        draw_series(fax, pairs, col, 1.0)
    if r < 2:
        fax.tick_params(axis="x", labelbottom=False, length=0)
    if c > 0:
        fax.tick_params(axis="y", labelleft=False, length=0)
    sax = fig.add_axes(fig_rect(x0, s0, x1, p0))
    sax.set_facecolor("#d9d9d9")
    sax.set_xticks([])
    sax.set_yticks([])
    for sp in sax.spines.values():
        sp.set_color(BORDER)
        sp.set_linewidth(1.0)
    sax.text(0.5, 0.5, name, transform=sax.transAxes, ha="center", va="center",
             fontsize=8.5, color="#1a1a1a")

fig.text(720 / W, 1 - 30 / H, "Land Surface Temperature Anomalies by Continent",
         ha="left", va="center", fontsize=12.2, color="black")
fig.text(1023 / W, 1 - 657 / H, "Year", ha="center", va="center", fontsize=10.5, color="black")
fig.text(689 / W, 1 - 338 / H, "Temperature Anomaly (K)", ha="center", va="center",
         rotation=90, fontsize=10.5, color="black")

fig.savefig("out.png", dpi=100)
